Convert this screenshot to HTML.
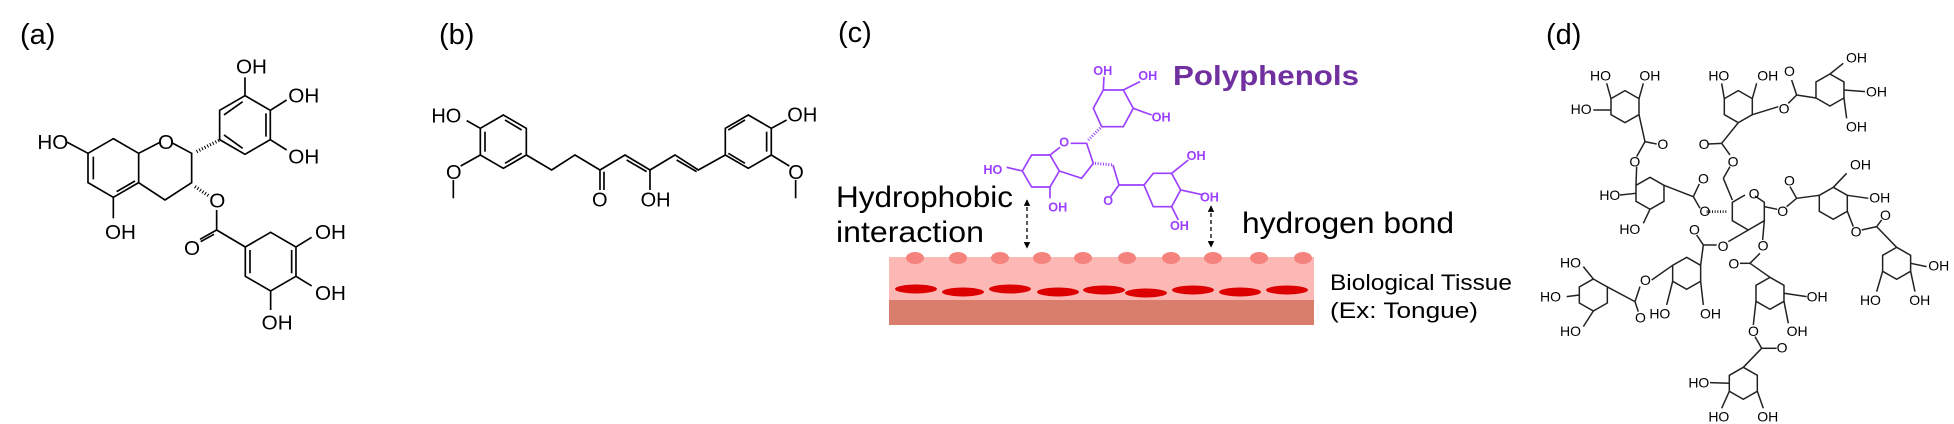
<!DOCTYPE html>
<html><head><meta charset="utf-8"><style>
html,body{margin:0;padding:0;background:#fff;}
svg{display:block;}
text{font-family:"Liberation Sans",sans-serif;}
</style></head><body>
<svg width="1954" height="424" viewBox="0 0 1954 424" xmlns="http://www.w3.org/2000/svg">
<defs>
<polygon id="ha" points="0,-88 76,-44 76,44 0,88 -76,44 -76,-44" fill="none"/>
<polygon id="hb" points="0,-80 69,-40 69,40 0,80 -69,40 -69,-40" fill="none"/>
<polygon id="hd" points="0,-48 42,-24 42,24 0,48 -42,24 -42,-24" fill="none"/>
<marker id="ar" viewBox="0 0 10 10" refX="9" refY="5" markerWidth="5" markerHeight="5" orient="auto-start-reverse"><path d="M0,0L10,5L0,10z" fill="#000"/></marker>
</defs>

<g font-size="29" fill="#000">
<text x="20" y="44">(a)</text>
<text x="439" y="44">(b)</text>
<text x="838" y="42">(c)</text>
<text x="1546" y="44">(d)</text>
</g>

<!-- (a) -->
<g transform="scale(0.3333)" stroke="#000" stroke-width="5" fill="none">
<use href="#ha" x="340" y="504"/>
<use href="#ha" x="735" y="375"/>
<use href="#ha" x="812" y="785"/>
<polyline points="416,460 478,428"/>
<polyline points="515,428 575,460 575,548 495,600 416,548"/>
<line x1="198" y1="425" x2="264" y2="460"/>
<line x1="340" y1="592" x2="340" y2="655"/>
<line x1="590" y1="455" x2="659" y2="420" stroke-dasharray="3,6" stroke-width="10"/>
<line x1="585" y1="560" x2="630" y2="590" stroke-dasharray="3,6" stroke-width="10"/>
<line x1="735" y1="287" x2="735" y2="232"/>
<line x1="811" y1="331" x2="860" y2="300"/>
<line x1="811" y1="419" x2="860" y2="450"/>
<line x1="650" y1="630" x2="650" y2="690"/>
<line x1="650" y1="690" x2="736" y2="741"/>
<line x1="650" y1="690" x2="600" y2="718"/><line x1="642" y1="703" x2="602" y2="725"/>
<line x1="888" y1="741" x2="935" y2="712"/>
<line x1="888" y1="829" x2="935" y2="858"/>
<line x1="812" y1="873" x2="812" y2="930"/>
<line x1="280" y1="470" x2="280" y2="538"/><line x1="350" y1="575" x2="405" y2="543"/>
<line x1="672" y1="345" x2="728" y2="305"/><line x1="798" y1="340" x2="798" y2="410"/><line x1="672" y1="405" x2="728" y2="445"/>
<line x1="750" y1="750" x2="750" y2="820"/><line x1="875" y1="750" x2="875" y2="820"/>
</g>
<g transform="scale(0.3333)" font-size="62" fill="#000">
<text x="112" y="447">HO</text>
<text x="474" y="447">O</text>
<text x="315" y="717">OH</text>
<text x="708" y="220">OH</text>
<text x="865" y="308">OH</text>
<text x="865" y="490">OH</text>
<text x="628" y="622">O</text>
<text x="552" y="765">O</text>
<text x="945" y="717">OH</text>
<text x="945" y="900">OH</text>
<text x="785" y="988">OH</text>
</g>

<!-- (b) -->
<g transform="translate(420,0) scale(0.3333)" stroke="#000" stroke-width="5" fill="none">
<use href="#hb" x="250" y="425"/>
<use href="#hb" x="985" y="425"/>
<line x1="181" y1="385" x2="140" y2="362"/>
<line x1="181" y1="465" x2="122" y2="498"/>
<line x1="100" y1="540" x2="100" y2="595"/>
<polyline points="319,465 395,510 465,465 540,510 615,465 690,510 765,465 835,510 916,465"/>
<line x1="540" y1="510" x2="540" y2="570"/><line x1="552" y1="515" x2="552" y2="570"/>
<line x1="620" y1="480" x2="680" y2="515"/>
<line x1="770" y1="480" x2="830" y2="515"/>
<line x1="690" y1="510" x2="690" y2="570"/>
<line x1="1054" y1="385" x2="1100" y2="360"/>
<line x1="1054" y1="465" x2="1108" y2="498"/>
<line x1="1127" y1="540" x2="1127" y2="595"/>
<line x1="195" y1="395" x2="195" y2="455"/><line x1="255" y1="360" x2="305" y2="390"/><line x1="255" y1="490" x2="305" y2="460"/>
<line x1="1040" y1="395" x2="1040" y2="455"/><line x1="925" y1="390" x2="975" y2="360"/><line x1="925" y1="460" x2="975" y2="490"/>
</g>
<g transform="translate(420,0) scale(0.3333)" font-size="60" fill="#000">
<text x="34" y="367">HO</text>
<text x="78" y="537">O</text>
<text x="516" y="620">O</text>
<text x="662" y="620">OH</text>
<text x="1102" y="365">OH</text>
<text x="1105" y="537">O</text>
</g>

<!-- (c) tissue -->
<rect x="889" y="257" width="425" height="43" fill="#fbb8b5"/>
<rect x="889" y="300" width="425" height="25" fill="#d97e6c"/>
<g fill="#f4837e">
<ellipse cx="915" cy="258" rx="9" ry="6"/><ellipse cx="958" cy="258" rx="9" ry="6"/><ellipse cx="1000" cy="258" rx="9" ry="6"/><ellipse cx="1042" cy="258" rx="9" ry="6"/><ellipse cx="1083" cy="258" rx="9" ry="6"/><ellipse cx="1127" cy="258" rx="9" ry="6"/><ellipse cx="1171" cy="258" rx="9" ry="6"/><ellipse cx="1213" cy="258" rx="9" ry="6"/><ellipse cx="1259" cy="258" rx="9" ry="6"/><ellipse cx="1303" cy="258" rx="9" ry="6"/>
</g>
<g fill="#dd0000">
<ellipse cx="916" cy="289" rx="21" ry="4.5"/><ellipse cx="963" cy="292" rx="21" ry="4.5"/><ellipse cx="1010" cy="289" rx="21" ry="4.5"/><ellipse cx="1058" cy="292" rx="21" ry="4.5"/><ellipse cx="1104" cy="290" rx="21" ry="4.5"/><ellipse cx="1146" cy="293" rx="21" ry="4.5"/><ellipse cx="1193" cy="290" rx="21" ry="4.5"/><ellipse cx="1240" cy="292" rx="21" ry="4.5"/><ellipse cx="1287" cy="290" rx="21" ry="4.5"/>
</g>
<line x1="1027" y1="200" x2="1027" y2="248" stroke="#000" stroke-width="1.3" stroke-dasharray="4,3" marker-start="url(#ar)" marker-end="url(#ar)"/>
<line x1="1211" y1="206" x2="1211" y2="247" stroke="#000" stroke-width="1.3" stroke-dasharray="4,3" marker-start="url(#ar)" marker-end="url(#ar)"/>
<g font-size="30" fill="#000">
<text x="836" y="207" textLength="177" lengthAdjust="spacingAndGlyphs">Hydrophobic</text>
<text x="836" y="242" textLength="148" lengthAdjust="spacingAndGlyphs">interaction</text>
<text x="1242" y="233" textLength="212" lengthAdjust="spacingAndGlyphs">hydrogen bond</text>
</g>
<g font-size="22" fill="#000">
<text x="1330" y="290" textLength="182" lengthAdjust="spacingAndGlyphs">Biological Tissue</text>
<text x="1330" y="318" textLength="148" lengthAdjust="spacingAndGlyphs">(Ex: Tongue)</text>
</g>
<text x="1173" y="85" font-size="28" font-weight="bold" fill="#7030a0" textLength="186" lengthAdjust="spacingAndGlyphs">Polyphenols</text>

<!-- (c) molecule -->
<g transform="translate(830,30) scale(0.3333)" stroke="#9b40ff" stroke-width="5" fill="none">
<polygon points="605,375 660,375 688,423 660,471 605,471 577,423"/>
<polyline points="660,375 690,352"/>
<polyline points="722,340 770,340 790,400 755,445 688,423"/>
<line x1="530" y1="412" x2="577" y2="423"/>
<line x1="660" y1="471" x2="660" y2="505"/>
<line x1="775" y1="330" x2="815" y2="290" stroke-dasharray="3,5" stroke-width="9"/>
<polygon points="815,290 790,235 820,180 880,180 910,235 880,290"/>
<line x1="820" y1="180" x2="822" y2="140"/>
<line x1="880" y1="180" x2="930" y2="155"/>
<line x1="910" y1="235" x2="965" y2="255"/>
<line x1="795" y1="400" x2="849" y2="405" stroke-dasharray="3,5" stroke-width="9"/>
<line x1="849" y1="405" x2="867" y2="465"/>
<line x1="867" y1="465" x2="842" y2="500"/>
<line x1="867" y1="465" x2="942" y2="465"/>
<polygon points="942,465 970,430 1025,430 1052,480 1025,530 970,530"/>
<line x1="1025" y1="430" x2="1075" y2="390"/>
<line x1="1052" y1="480" x2="1120" y2="495"/>
<line x1="1025" y1="530" x2="1045" y2="570"/>
</g>
<g transform="translate(830,30) scale(0.3333)" font-size="38" font-weight="bold" fill="#9b40ff">
<text x="460" y="432">HO</text>
<text x="688" y="350">O</text>
<text x="655" y="545">OH</text>
<text x="790" y="135">OH</text>
<text x="925" y="150">OH</text>
<text x="965" y="275">OH</text>
<text x="820" y="525">O</text>
<text x="1070" y="390">OH</text>
<text x="1110" y="515">OH</text>
<text x="1020" y="600">OH</text>
</g>

<!-- (d) -->
<g transform="translate(1540,0) scale(0.3333)" stroke="#222" stroke-width="4.5" fill="none">
<use href="#hd" x="255" y="320"/>
<use href="#hd" x="330" y="580"/>
<use href="#hd" x="595" y="320"/>
<use href="#hd" x="870" y="270"/>
<use href="#hd" x="880" y="610"/>
<use href="#hd" x="1070" y="790"/>
<use href="#hd" x="440" y="820"/>
<use href="#hd" x="160" y="885"/>
<use href="#hd" x="690" y="880"/>
<use href="#hd" x="610" y="1150"/>
<line x1="213" y1="296" x2="200" y2="250"/><line x1="297" y1="296" x2="310" y2="250"/><line x1="213" y1="330" x2="160" y2="330"/>
<line x1="297" y1="344" x2="315" y2="425"/><line x1="315" y1="425" x2="350" y2="432"/><line x1="315" y1="425" x2="290" y2="470"/><line x1="290" y1="500" x2="288" y2="556"/>
<line x1="288" y1="580" x2="240" y2="585"/><line x1="330" y1="628" x2="310" y2="670"/><line x1="372" y1="556" x2="460" y2="590"/><line x1="460" y1="590" x2="478" y2="552"/><line x1="460" y1="590" x2="480" y2="625"/>
<line x1="500" y1="635" x2="560" y2="635" stroke-dasharray="3,5" stroke-width="8"/>
<line x1="553" y1="296" x2="545" y2="250"/><line x1="637" y1="296" x2="650" y2="250"/><line x1="637" y1="344" x2="715" y2="320"/><line x1="745" y1="310" x2="770" y2="285"/><line x1="770" y1="285" x2="755" y2="240"/><line x1="770" y1="285" x2="828" y2="294"/>
<line x1="595" y1="368" x2="545" y2="430"/><line x1="545" y1="430" x2="505" y2="432"/><line x1="545" y1="430" x2="570" y2="465"/><line x1="570" y1="500" x2="550" y2="535"/><line x1="550" y1="535" x2="577" y2="600"/>
<line x1="870" y1="222" x2="910" y2="190"/><line x1="912" y1="270" x2="975" y2="275"/><line x1="912" y1="294" x2="920" y2="355"/>
<polyline points="615,585 577,607 577,662 625,690 673,662 673,607 645,588"/>
<line x1="673" y1="620" x2="712" y2="628"/><line x1="740" y1="620" x2="770" y2="595"/><line x1="770" y1="595" x2="750" y2="560"/><line x1="770" y1="595" x2="838" y2="586"/>
<line x1="880" y1="562" x2="920" y2="520"/><line x1="922" y1="586" x2="985" y2="595"/><line x1="922" y1="634" x2="940" y2="680"/><line x1="965" y1="690" x2="1010" y2="680"/><line x1="1010" y1="680" x2="1025" y2="660"/><line x1="1010" y1="680" x2="1070" y2="742"/>
<line x1="1112" y1="790" x2="1160" y2="800"/><line x1="1112" y1="814" x2="1125" y2="875"/><line x1="1028" y1="814" x2="1010" y2="875"/>
<line x1="625" y1="690" x2="565" y2="725"/><line x1="530" y1="735" x2="490" y2="735"/><line x1="490" y1="735" x2="470" y2="705"/><line x1="490" y1="735" x2="482" y2="796"/>
<line x1="398" y1="796" x2="335" y2="840"/><line x1="482" y1="844" x2="490" y2="915"/><line x1="398" y1="844" x2="380" y2="915"/>
<line x1="300" y1="860" x2="285" y2="905"/><line x1="285" y1="905" x2="295" y2="935"/><line x1="285" y1="905" x2="202" y2="861"/>
<line x1="160" y1="837" x2="130" y2="800"/><line x1="118" y1="885" x2="80" y2="890"/><line x1="160" y1="933" x2="130" y2="980"/>
<line x1="673" y1="662" x2="668" y2="720"/><line x1="660" y1="760" x2="630" y2="790"/><line x1="630" y1="790" x2="600" y2="790"/><line x1="630" y1="790" x2="690" y2="832"/>
<line x1="732" y1="880" x2="800" y2="890"/><line x1="732" y1="904" x2="745" y2="970"/><line x1="648" y1="904" x2="640" y2="975"/><line x1="645" y1="1010" x2="665" y2="1045"/><line x1="665" y1="1045" x2="710" y2="1045"/><line x1="665" y1="1045" x2="610" y2="1102"/>
<line x1="568" y1="1150" x2="510" y2="1148"/><line x1="568" y1="1174" x2="545" y2="1225"/><line x1="652" y1="1174" x2="670" y2="1225"/>
</g>
<g transform="translate(1540,0) scale(0.3333)" font-size="42" fill="#000">
<text x="150" y="242">HO</text><text x="298" y="242">OH</text><text x="92" y="342">HO</text>
<text x="352" y="447">O</text><text x="268" y="500">O</text>
<text x="178" y="600">HO</text><text x="238" y="702">HO</text>
<text x="474" y="550">O</text><text x="478" y="648">O</text>
<text x="505" y="242">HO</text><text x="652" y="242">OH</text>
<text x="716" y="340">O</text><text x="732" y="228">O</text>
<text x="918" y="188">OH</text><text x="978" y="290">OH</text><text x="918" y="395">OH</text>
<text x="476" y="447">O</text><text x="563" y="500">O</text>
<text x="626" y="595">O</text>
<text x="712" y="648">O</text><text x="732" y="557">O</text>
<text x="930" y="508">OH</text><text x="988" y="608">OH</text>
<text x="932" y="710">O</text><text x="1020" y="660">O</text>
<text x="1165" y="812">OH</text><text x="1108" y="915">OH</text><text x="960" y="915">HO</text>
<text x="533" y="753">O</text><text x="447" y="703">O</text>
<text x="480" y="955">OH</text><text x="328" y="955">HO</text>
<text x="300" y="855">O</text><text x="285" y="968">O</text>
<text x="60" y="803">HO</text><text x="0" y="905">HO</text><text x="60" y="1008">HO</text>
<text x="653" y="752">O</text><text x="565" y="805">O</text>
<text x="800" y="905">OH</text><text x="740" y="1008">OH</text>
<text x="624" y="1008">O</text><text x="710" y="1058">O</text>
<text x="445" y="1162">HO</text><text x="505" y="1265">HO</text><text x="652" y="1265">OH</text>
</g>
</svg>
</body></html>
